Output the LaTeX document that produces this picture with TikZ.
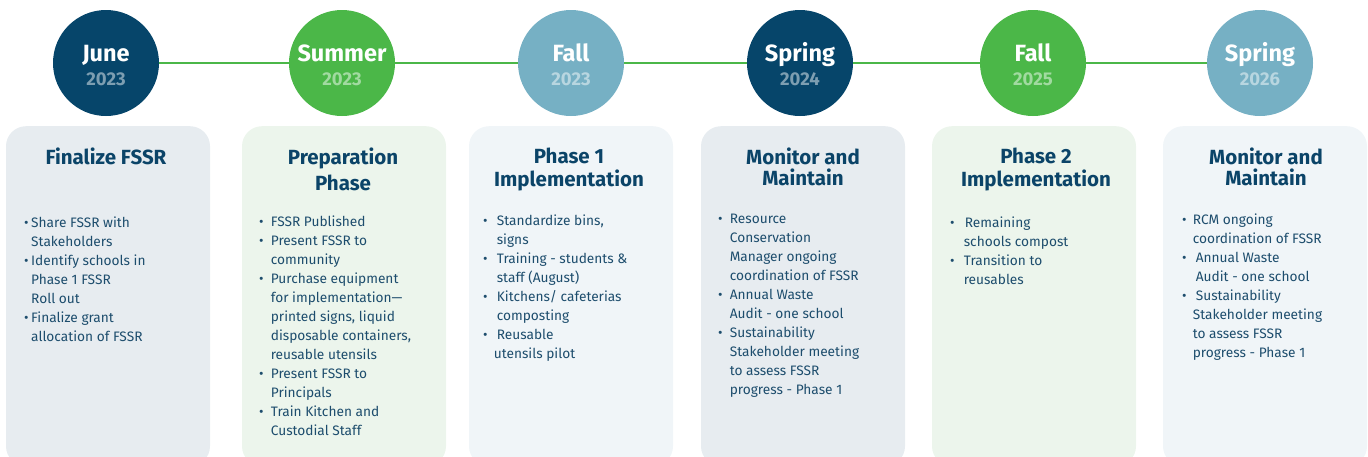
\documentclass[tikz,border=0pt]{standalone}
\usepackage{fontspec}
\setmainfont{Fira Sans}
\definecolor{navy}{HTML}{06456A}
\definecolor{grn}{HTML}{4BB748}
\definecolor{lblue}{HTML}{76B0C4}
\definecolor{boxA}{HTML}{E7ECF0}
\definecolor{boxB}{HTML}{ECF5EC}
\definecolor{boxC}{HTML}{F0F5F8}
\definecolor{ttl}{HTML}{0B4468}
\definecolor{txt}{HTML}{1D4D6D}
\newcommand\bul[1][7pt]{\makebox[#1][l]{•}}
\newcommand\ind[1][7pt]{\hspace*{#1}}
\tikzset{
 circ/.style={circle, minimum size=106pt, inner sep=0pt, draw=none},
 season/.style={text=white, font=\bfseries\fontsize{23.5}{25}\selectfont, inner sep=0pt, anchor=base},
 yr/.style={font=\bfseries\fontsize{18.5}{20}\selectfont, inner sep=0pt, anchor=base},
 panel/.style={rounded corners=20pt, minimum width=204pt, minimum height=340pt, inner sep=0pt, draw=none, anchor=north},
 ttlnode/.style={text=ttl, font=\bfseries\fontsize{20.5}{23}\selectfont, align=center, inner sep=0pt, anchor=north},
 items/.style={text=txt, font=\fontsize{13.7}{19}\selectfont, align=left, inner sep=0pt, anchor=north west},
 tline/.style={grn, line width=1.5pt},
}
\begin{document}
\begin{tikzpicture}[x=1pt,y=-1pt]
\useasboundingbox (0,0) rectangle (1368,456);
% panels
\node[panel, fill=boxA] (p1) at (108,126) {};
\node[panel, fill=boxB] (p2) at (344,126) {};
\node[panel, fill=boxC] (p3) at (571,126) {};
\node[panel, fill=boxA] (p4) at (803,126) {};
\node[panel, fill=boxB] (p5) at (1034,126) {};
\node[panel, fill=boxC] (p6) at (1265,126) {};
% circles
\node[circ, fill=navy] (c1) at (106,63) {};
\node[circ, fill=grn] (c2) at (342,63) {};
\node[circ, fill=lblue] (c3) at (571,63) {};
\node[circ, fill=navy] (c4) at (800,63) {};
\node[circ, fill=grn] (c5) at (1033,63) {};
\node[circ, fill=lblue] (c6) at (1260,63) {};
\draw[tline] (c1.east) -- (c2.west);
\draw[tline] (c2.east) -- (c3.west);
\draw[tline] (c3.east) -- (c4.west);
\draw[tline] (c4.east) -- (c5.west);
\draw[tline] (c5.east) -- (c6.west);
% circle labels
\node[season] (s1) at (106,61) {June};
\node[yr, text=white!48!navy] (y1) at (106,85) {2023};
\node[season] (s2) at (342,61) {Summer};
\node[yr, text=white!48!grn] (y2) at (342,85) {2023};
\node[season] (s3) at (571,61) {Fall};
\node[yr, text=white!48!lblue] (y3) at (571,85) {2023};
\node[season] (s4) at (800,61) {Spring};
\node[yr, text=white!48!navy] (y4) at (800,85) {2024};
\node[season] (s5) at (1033,61) {Fall};
\node[yr, text=white!48!grn] (y5) at (1033,85) {2025};
\node[season] (s6) at (1260,61) {Spring};
\node[yr, text=white!48!lblue] (y6) at (1260,85) {2026};
% titles
\node[ttlnode] (t1) at (106,148) {Finalize FSSR};
\node[ttlnode, font=\bfseries\fontsize{20.5}{26}\selectfont] (t2) at (343,148) {Preparation\\Phase};
\node[ttlnode] (t3) at (569,148) {Phase 1\\Implementation};
\node[ttlnode, font=\bfseries\fontsize{20.5}{21}\selectfont] (t4) at (803,148) {Monitor and\\Maintain};
\node[ttlnode] (t5) at (1036,148) {Phase 2\\Implementation};
\node[ttlnode, font=\bfseries\fontsize{20.5}{21}\selectfont] (t6) at (1266,148) {Monitor and\\Maintain};
% items
\node[items] (l1) at (24,217) {\bul Share FSSR with\\ \ind Stakeholders\\ \bul Identify schools in\\ \ind Phase 1 FSSR\\ \ind Roll out\\ \bul Finalize grant\\ \ind allocation of FSSR};
\node[items] (l2) at (259,216) {\bul[8pt] FSSR Published\\ \bul[8pt] Present FSSR to\\ \ind[8pt] community\\ \bul[8pt] Purchase equipment\\ \ind[8pt] for implementation—\\ \ind[8pt] printed signs, liquid\\ \ind[8pt] disposable containers,\\ \ind[8pt] reusable utensils\\ \bul[8pt] Present FSSR to\\ \ind[8pt] Principals\\ \bul[8pt] Train Kitchen and\\ \ind[8pt] Custodial Staff};
\node[items] (l3) at (483,215) {\bul[10pt] Standardize bins,\\ \ind[10pt] signs\\ \bul[10pt] Training - students \&\\ \ind[10pt] staff (August)\\ \bul[10pt] Kitchens/ cafeterias\\ \ind[10pt] composting\\ \bul[10pt] Reusable\\ \ind[7pt] utensils pilot};
\node[items] (l4) at (718,214) {\bul[8pt] Resource\\ \ind[8pt] Conservation\\ \ind[8pt] Manager ongoing\\ \ind[8pt] coordination of FSSR\\ \bul[8pt] Annual Waste\\ \ind[8pt] Audit - one school\\ \bul[8pt] Sustainability\\ \ind[8pt] Stakeholder meeting\\ \ind[8pt] to assess FSSR\\ \ind[8pt] progress - Phase 1};
\node[items] (l5) at (950,217) {\bul[11pt] Remaining\\ \ind[10pt] schools compost\\ \bul[10pt] Transition to\\ \ind[10pt] reusables};
\node[items] (l6) at (1182,214) {\bul[7pt] RCM ongoing\\ \ind[7pt] coordination of FSSR\\ \bul[10pt] Annual Waste\\ \ind[10pt] Audit - one school\\ \bul[10pt] Sustainability\\ \ind[7pt] Stakeholder meeting\\ \ind[7pt] to assess FSSR\\ \ind[7pt] progress - Phase 1};
\end{tikzpicture}
\end{document}
